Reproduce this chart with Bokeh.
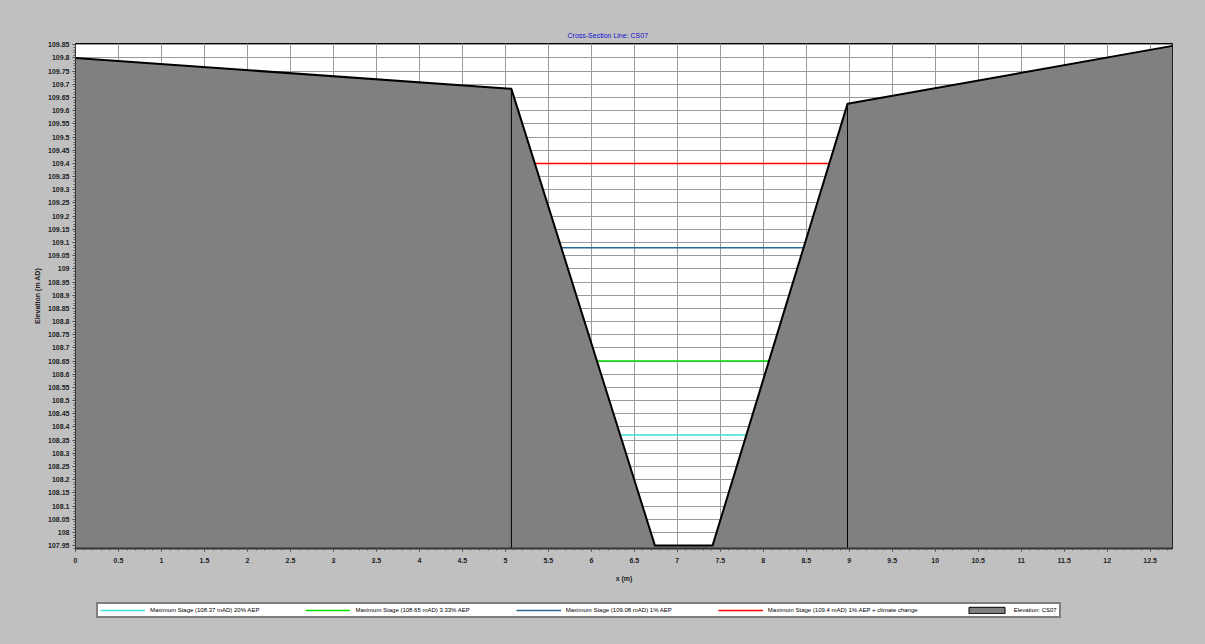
import numpy as np
from bokeh.plotting import figure
from bokeh.layouts import column
from bokeh.models import (FixedTicker, CustomJSTickFormatter, Legend, LegendItem,
                          ColumnDataSource, Range1d)
from bokeh.embed import file_html
from bokeh.resources import INLINE

# ---- data ----
chain_x = [0.0, 5.07, 6.74, 7.41, 8.98, 12.76]
elev_z = [109.80, 109.683, 107.95, 107.95, 109.626, 109.846]
bank_x = [5.07, 8.98]

stage_levels = [108.37, 108.65, 109.08, 109.4]
stage_labels = [
    "Maximum Stage (108.37 mAD) 20% AEP",
    "Maximum Stage (108.65 mAD) 3.33% AEP",
    "Maximum Stage (109.08 mAD) 1% AEP",
    "Maximum Stage (109.4 mAD) 1% AEP + climate change",
]
stage_colors = ["#3ADFD8", "#00DD00", "#2A6A96", "#FF0000"]
elev_label = "Elevation: CS07"
title_text = "Cross-Section Line: CS07"

x_ticks = [round(0.5 * i, 2) for i in range(26)]
y_ticks = [round(107.95 + 0.05 * i, 2) for i in range(39)]

BG = "#C0C0C0"

# ---- main figure ----
X0, X1 = 0.0, 12.76
Y0, Y1 = 107.939, 109.855

p = figure(width=1205, height=600, output_backend="svg", toolbar_location=None,
           x_range=Range1d(X0, X1), y_range=Range1d(Y0, Y1),
           min_border_left=75, min_border_right=33, min_border_top=43, min_border_bottom=52)
p.border_fill_color = BG
p.background_fill_color = "white"
p.outline_line_color = "black"
p.outline_line_width = 1

p.title.text = title_text
p.title.align = "left"
p.title.offset = 492
p.title.text_color = "#1010D0"
p.title.text_font = "Liberation Sans"
p.title.text_font_size = "7px"
p.title.text_font_style = "normal"

fmt = CustomJSTickFormatter(code="return parseFloat(tick.toFixed(2)).toString();")

xminor = [round(0.1 * i, 2) for i in range(128)]
yminor = [round(107.94 + 0.01 * i, 2) for i in range(192)]
p.xaxis.ticker = FixedTicker(ticks=x_ticks, minor_ticks=xminor)
p.yaxis.ticker = FixedTicker(ticks=y_ticks, minor_ticks=yminor)
p.xaxis.formatter = fmt
p.yaxis.formatter = fmt
for ax in (p.xaxis, p.yaxis):
    ax.major_label_text_font = "Liberation Sans"
    ax.major_label_text_font_size = "7px"
    ax.major_label_text_font_style = "bold"
    ax.major_label_text_color = "#222222"
    ax.axis_label_text_font = "Liberation Sans"
    ax.axis_label_text_font_size = "7px"
    ax.axis_label_text_font_style = "bold"
    ax.axis_label_text_color = "#222222"
    ax.axis_line_color = "#333333"
    ax.major_tick_line_color = "#333333"
    ax.minor_tick_line_color = "#555555"
    ax.major_tick_out = 3
    ax.major_tick_in = 0
    ax.minor_tick_out = 2
    ax.minor_tick_in = 0
p.xaxis.axis_line_width = 2
p.xaxis.axis_label = "x (m)"
p.yaxis.axis_label = "Elevation (m AD)"
p.xaxis.major_label_standoff = 6
p.xaxis.axis_label_standoff = 9
p.yaxis.major_label_standoff = 3
p.yaxis.axis_label_standoff = 4

p.xgrid.ticker = FixedTicker(ticks=x_ticks)
p.ygrid.ticker = FixedTicker(ticks=y_ticks)
p.grid.grid_line_color = "#9A9A9A"
p.grid.grid_line_width = 1

# ---- stage lines between the banks ----
cx = np.array(chain_x)
cz = np.array(elev_z)
li = [1, 2]
ri = [3, 4]
for lvl, col in zip(stage_levels, stage_colors):
    xl = float(np.interp(lvl, cz[li][::-1], cx[li][::-1]))
    xr = float(np.interp(lvl, cz[ri], cx[ri]))
    p.line([xl, xr], [lvl, lvl], line_color=col, line_width=1.5)

# ---- elevation fill ----
src = ColumnDataSource(dict(x=chain_x, z=elev_z, base=[Y0 - 1.0] * len(chain_x)))
p.varea(x="x", y1="base", y2="z", source=src, fill_color="#808080")
p.line(x="x", y="z", source=src, line_color="black", line_width=2)

# bank markers
bank_z = [float(np.interp(b, cx, cz)) for b in bank_x]
p.segment(x0=bank_x, y0=bank_z, x1=bank_x, y1=[Y0] * len(bank_x),
          line_color="black", line_width=1)

# ---- legend strip (separate figure so it does not disturb the plot layout) ----
q = figure(width=1205, height=44, output_backend="svg", toolbar_location=None,
           x_range=Range1d(0, 1), y_range=Range1d(0, 1),
           x_axis_location=None, y_axis_location=None,
           min_border_left=0, min_border_right=0, min_border_top=0, min_border_bottom=0)
q.grid.visible = False
q.outline_line_color = None
q.background_fill_color = BG
q.border_fill_color = BG
# proxy renderers (their data lie outside this strip's ranges, only their legend glyphs show)
leg_renderers = []
for lvl, col in zip(stage_levels, stage_colors):
    leg_renderers.append(q.line(x=[lvl, lvl], y=[lvl, lvl], line_color=col, line_width=1.5))
leg_renderers.append(q.rect(x=[elev_z[0]], y=[elev_z[0]], width=[1], height=[1],
                            fill_color="#808080", line_color="black", line_width=1))
items = [LegendItem(label=l, renderers=[r])
         for l, r in zip(stage_labels + [elev_label], leg_renderers)]
leg = Legend(items=items, orientation="horizontal", location=(21, 26))
leg.label_text_font = "Liberation Sans"
leg.label_text_font_size = "6px"
leg.label_text_color = "#000000"
leg.glyph_width = 45
leg.glyph_height = 8
leg.label_height = 8
leg.label_standoff = 5
leg.spacing = 46
leg.padding = 2
leg.margin = 0
leg.border_line_color = "black"
leg.border_line_width = 2
leg.background_fill_color = "white"
leg.background_fill_alpha = 1.0
q.add_layout(leg, "center")

layout = column(p, q, spacing=0, background=BG)
open("out.html", "w").write(file_html(layout, INLINE))
